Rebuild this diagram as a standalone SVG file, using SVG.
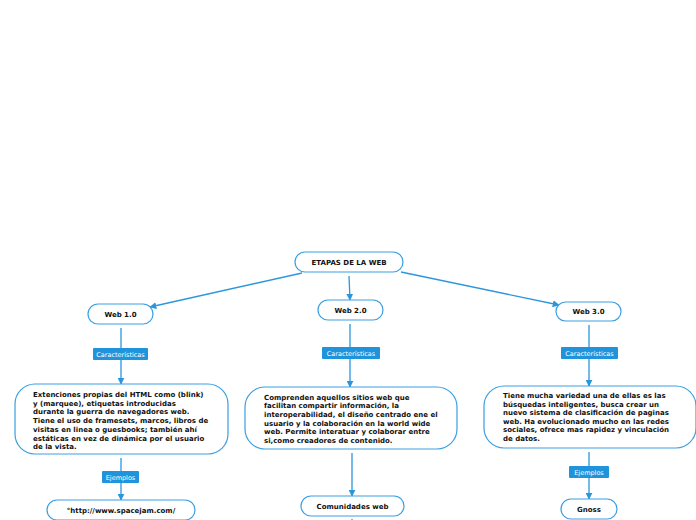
<svg xmlns="http://www.w3.org/2000/svg" width="696" height="520" viewBox="0 0 696 520">
<defs>
<marker id="ah" viewBox="0 0 10 10" refX="9" refY="5" markerWidth="7" markerHeight="7" orient="auto" markerUnits="userSpaceOnUse">
<path d="M0,0 L10,5 L0,10 z" fill="#2a97dd"/>
</marker>
<style>
.n{fill:#fff;stroke:#3a9fe2;stroke-width:1.2}
.t{font-family:"DejaVu Sans",Verdana,sans-serif;font-weight:bold;font-size:7px;fill:#111}
.c{text-anchor:middle}
.l{fill:#1f93dc}
.lt{font-family:"DejaVu Sans",Verdana,sans-serif;font-size:6.5px;fill:#fff;text-anchor:middle}
.e{stroke:#2a97dd;stroke-width:1.3;fill:none}
</style>
</defs>
<rect width="696" height="520" fill="#fff"/>
<g id="connectors">
<line class="e" x1="302" y1="273" x2="150" y2="307" marker-end="url(#ah)"/>
<line class="e" x1="349" y1="276" x2="350" y2="300" marker-end="url(#ah)"/>
<line class="e" x1="401" y1="272" x2="559" y2="305" marker-end="url(#ah)"/>
<line class="e" x1="121" y1="328" x2="121" y2="384" marker-end="url(#ah)"/>
<line class="e" x1="121" y1="458" x2="121" y2="500" marker-end="url(#ah)"/>
<line class="e" x1="350" y1="324" x2="350" y2="387" marker-end="url(#ah)"/>
<line class="e" x1="352" y1="453" x2="352" y2="496" marker-end="url(#ah)"/>
<line class="e" x1="352" y1="519" x2="352" y2="520"/>
<line class="e" x1="589" y1="325" x2="589" y2="386" marker-end="url(#ah)"/>
<line class="e" x1="589" y1="452" x2="589" y2="499" marker-end="url(#ah)"/>
<rect class="l" x="93" y="348" width="55" height="12" rx="1"/>
<text class="lt" x="120.5" y="356.5">Características</text>
<rect class="l" x="322" y="347" width="58" height="12" rx="1"/>
<text class="lt" x="351" y="355.5">Características</text>
<rect class="l" x="561" y="347" width="57" height="12" rx="1"/>
<text class="lt" x="589.5" y="355.5">Características</text>
<rect class="l" x="102" y="471" width="37" height="12" rx="1"/>
<text class="lt" x="120.5" y="479.5">Ejemplos</text>
<rect class="l" x="569" y="466" width="40" height="12" rx="1"/>
<text class="lt" x="589" y="474.5">Ejemplos</text>
</g>
<g id="root">
<rect class="n" x="295" y="252" width="108" height="20" rx="10"/>
<text class="t c" x="349" y="264.5">ETAPAS DE LA WEB</text>
</g>
<g id="web1">
<rect class="n" x="88" y="304" width="65" height="20" rx="10"/>
<text class="t c" x="120.5" y="316.5">Web 1.0</text>
</g>
<g id="web2">
<rect class="n" x="318" y="300" width="65" height="20" rx="10"/>
<text class="t c" x="350.5" y="312.5">Web 2.0</text>
</g>
<g id="web3">
<rect class="n" x="556" y="302" width="65" height="19" rx="9.5"/>
<text class="t c" x="588.5" y="314">Web 3.0</text>
</g>
<g id="desc1">
<rect class="n" x="15" y="384" width="213" height="70" rx="20"/>
<text class="t" x="33"><tspan x="33" y="397">Extenciones propias del HTML como (blink)</tspan><tspan x="33" y="405.7">y (marquee), etiquetas introducidas</tspan><tspan x="33" y="414.4">durante la guerra de navegadores web.</tspan><tspan x="33" y="423.1">Tiene el uso de framesets, marcos, libros de</tspan><tspan x="33" y="431.8">visitas en linea o guesbooks; también ahí</tspan><tspan x="33" y="440.5">estáticas en vez de dinámica por el usuario</tspan><tspan x="33" y="449.2">de la vista.</tspan></text>
</g>
<g id="desc2">
<rect class="n" x="245" y="387" width="212" height="62" rx="20"/>
<text class="t"><tspan x="264" y="399.5">Comprenden aquellos sitios web que</tspan><tspan x="264" y="408.2">facilitan compartir información, la</tspan><tspan x="264" y="416.9">interoperabilidad, el diseño centrado ene el</tspan><tspan x="264" y="425.6">usuario y la colaboración en la world wide</tspan><tspan x="264" y="434.3">web. Permite interatuar y colaborar entre</tspan><tspan x="264" y="443">si,como creadores de contenido.</tspan></text>
</g>
<g id="desc3">
<rect class="n" x="484" y="386" width="212" height="62" rx="20"/>
<text class="t"><tspan x="503" y="398">Tiene mucha variedad una de ellas es las</tspan><tspan x="503" y="406.6">búsquedas inteligentes, busca crear un</tspan><tspan x="503" y="415.2">nuevo sistema de clasificación de paginas</tspan><tspan x="503" y="423.8">web. Ha evolucionado mucho en las redes</tspan><tspan x="503" y="432.4">sociales, ofrece mas rapidez y vinculación</tspan><tspan x="503" y="441">de datos.</tspan></text>
</g>
<g id="spacejam">
<rect class="n" x="47" y="500" width="148" height="20" rx="10"/>
<text class="t c" x="121" y="512.5">°http://www.spacejam.com/</text>
</g>
<g id="comunidades">
<rect class="n" x="301" y="496" width="103" height="20" rx="10"/>
<text class="t c" x="352.5" y="508.5">Comunidades web</text>
</g>
<g id="gnoss">
<rect class="n" x="561" y="499" width="56" height="20" rx="10"/>
<text class="t c" x="589" y="511.5">Gnoss</text>
</g>
</svg>
